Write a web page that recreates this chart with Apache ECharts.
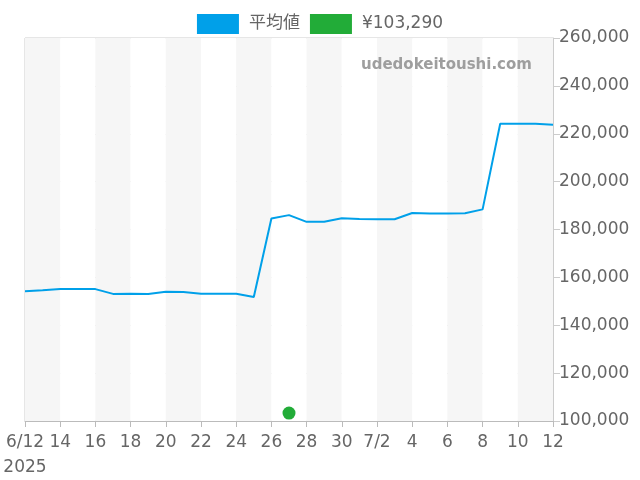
<!DOCTYPE html>
<html>
<head>
<meta charset="utf-8">
<script src="https://cdn.jsdelivr.net/npm/echarts@6/dist/echarts.min.js"></script>
<style>
  html, body { margin: 0; padding: 0; background: #fff; }
  #chart { width: 640px; height: 480px; }
</style>
</head>
<body>
<div id="chart"></div>
<script>
// 日付（カテゴリ）
const dates = [
  '2025-06-12', '2025-06-13', '2025-06-14', '2025-06-15', '2025-06-16', '2025-06-17',
  '2025-06-18', '2025-06-19', '2025-06-20', '2025-06-21', '2025-06-22', '2025-06-23',
  '2025-06-24', '2025-06-25', '2025-06-26', '2025-06-27', '2025-06-28', '2025-06-29',
  '2025-06-30', '2025-07-01', '2025-07-02', '2025-07-03', '2025-07-04', '2025-07-05',
  '2025-07-06', '2025-07-07', '2025-07-08', '2025-07-09', '2025-07-10', '2025-07-11',
  '2025-07-12'
]

// 平均値
const avgPrices = [
  154200, 154600, 155100, 155100, 155100, 153100,
  153200, 153100, 154000, 153900, 153200, 153200,
  153200, 151800, 184600, 186000, 183200, 183200,
  184700, 184400, 184300, 184300, 186900, 186700,
  186700, 186800, 188400, 224200, 224200, 224200,
  223800
]

// 買取価格（単点）
const offerDate = '2025-06-27'
const offerPrice = 103290
const offerName = '¥103,290'

// x軸ラベル（2日ごと）
const tickLabels = ['6/12\n2025', '14', '16', '18', '20', '22', '24', '26', '28', '30', '7/2', '4', '6', '8', '10', '12']

const fontFamily = '"DejaVu Sans", "Noto Sans CJK JP", sans-serif'

const chart = echarts.init(document.getElementById('chart'))

const option = {
  animation: false,
  textStyle: { fontFamily },
  legend: {
    top: 9,
    left: 'center',
    itemWidth: 42,
    itemHeight: 20,
    itemGap: 10,
    textStyle: { fontSize: 17, color: '#666', fontFamily, padding: [0, 0, 0, 5] },
    data: [
      { name: '平均値', icon: 'rect' },
      { name: offerName, icon: 'rect' }
    ]
  },
  grid: {
    left: 25,
    right: 87,
    top: 38,
    bottom: 58,
    show: true,
    borderColor: '#ccc',
    borderWidth: 1
  },
  graphic: [
    {
      type: 'text',
      left: 361,
      top: 58,
      z: 100,
      style: {
        text: 'udedokeitoushi.com',
        fill: '#9e9e9e',
        fontSize: 15,
        fontWeight: 'bold',
        fontFamily: '"DejaVu Sans", sans-serif'
      }
    }
  ],
  xAxis: {
    type: 'category',
    data: dates,
    boundaryGap: false,
    axisLine: { lineStyle: { color: '#bbb' } },
    axisTick: { interval: 1, length: 6, lineStyle: { color: '#bbb' } },
    axisLabel: {
      interval: 1,
      fontSize: 17,
      color: '#666',
      margin: 9,
      lineHeight: 25,
      formatter: (v, i) => (i % 2 === 0 ? tickLabels[i / 2] : '')
    },
    splitLine: { show: false, interval: 1 },
    splitArea: {
      show: true,
      interval: 1,
      areaStyle: { color: ['#f6f6f6', '#ffffff'] }
    }
  },
  yAxis: {
    type: 'value',
    position: 'right',
    min: 100000,
    max: 260000,
    interval: 20000,
    axisLine: { show: true, lineStyle: { color: '#ccc' } },
    axisTick: { show: true, length: 7, lineStyle: { color: '#ccc' } },
    axisLabel: {
      fontSize: 17,
      color: '#666',
      margin: 6,
      formatter: v => v.toLocaleString('en-US')
    },
    splitLine: { lineStyle: { color: '#e0e0e0' } }
  },
  series: [
    {
      name: '平均値',
      type: 'line',
      data: avgPrices,
      showSymbol: false,
      symbol: 'none',
      lineStyle: { color: '#00a0e9', width: 2 },
      itemStyle: { color: '#00a0e9' }
    },
    {
      name: offerName,
      type: 'scatter',
      data: [[offerDate, offerPrice]],
      symbolSize: 13,
      itemStyle: { color: '#22ac38', opacity: 1 }
    }
  ]
}

chart.setOption(option)
</script>
</body>
</html>
